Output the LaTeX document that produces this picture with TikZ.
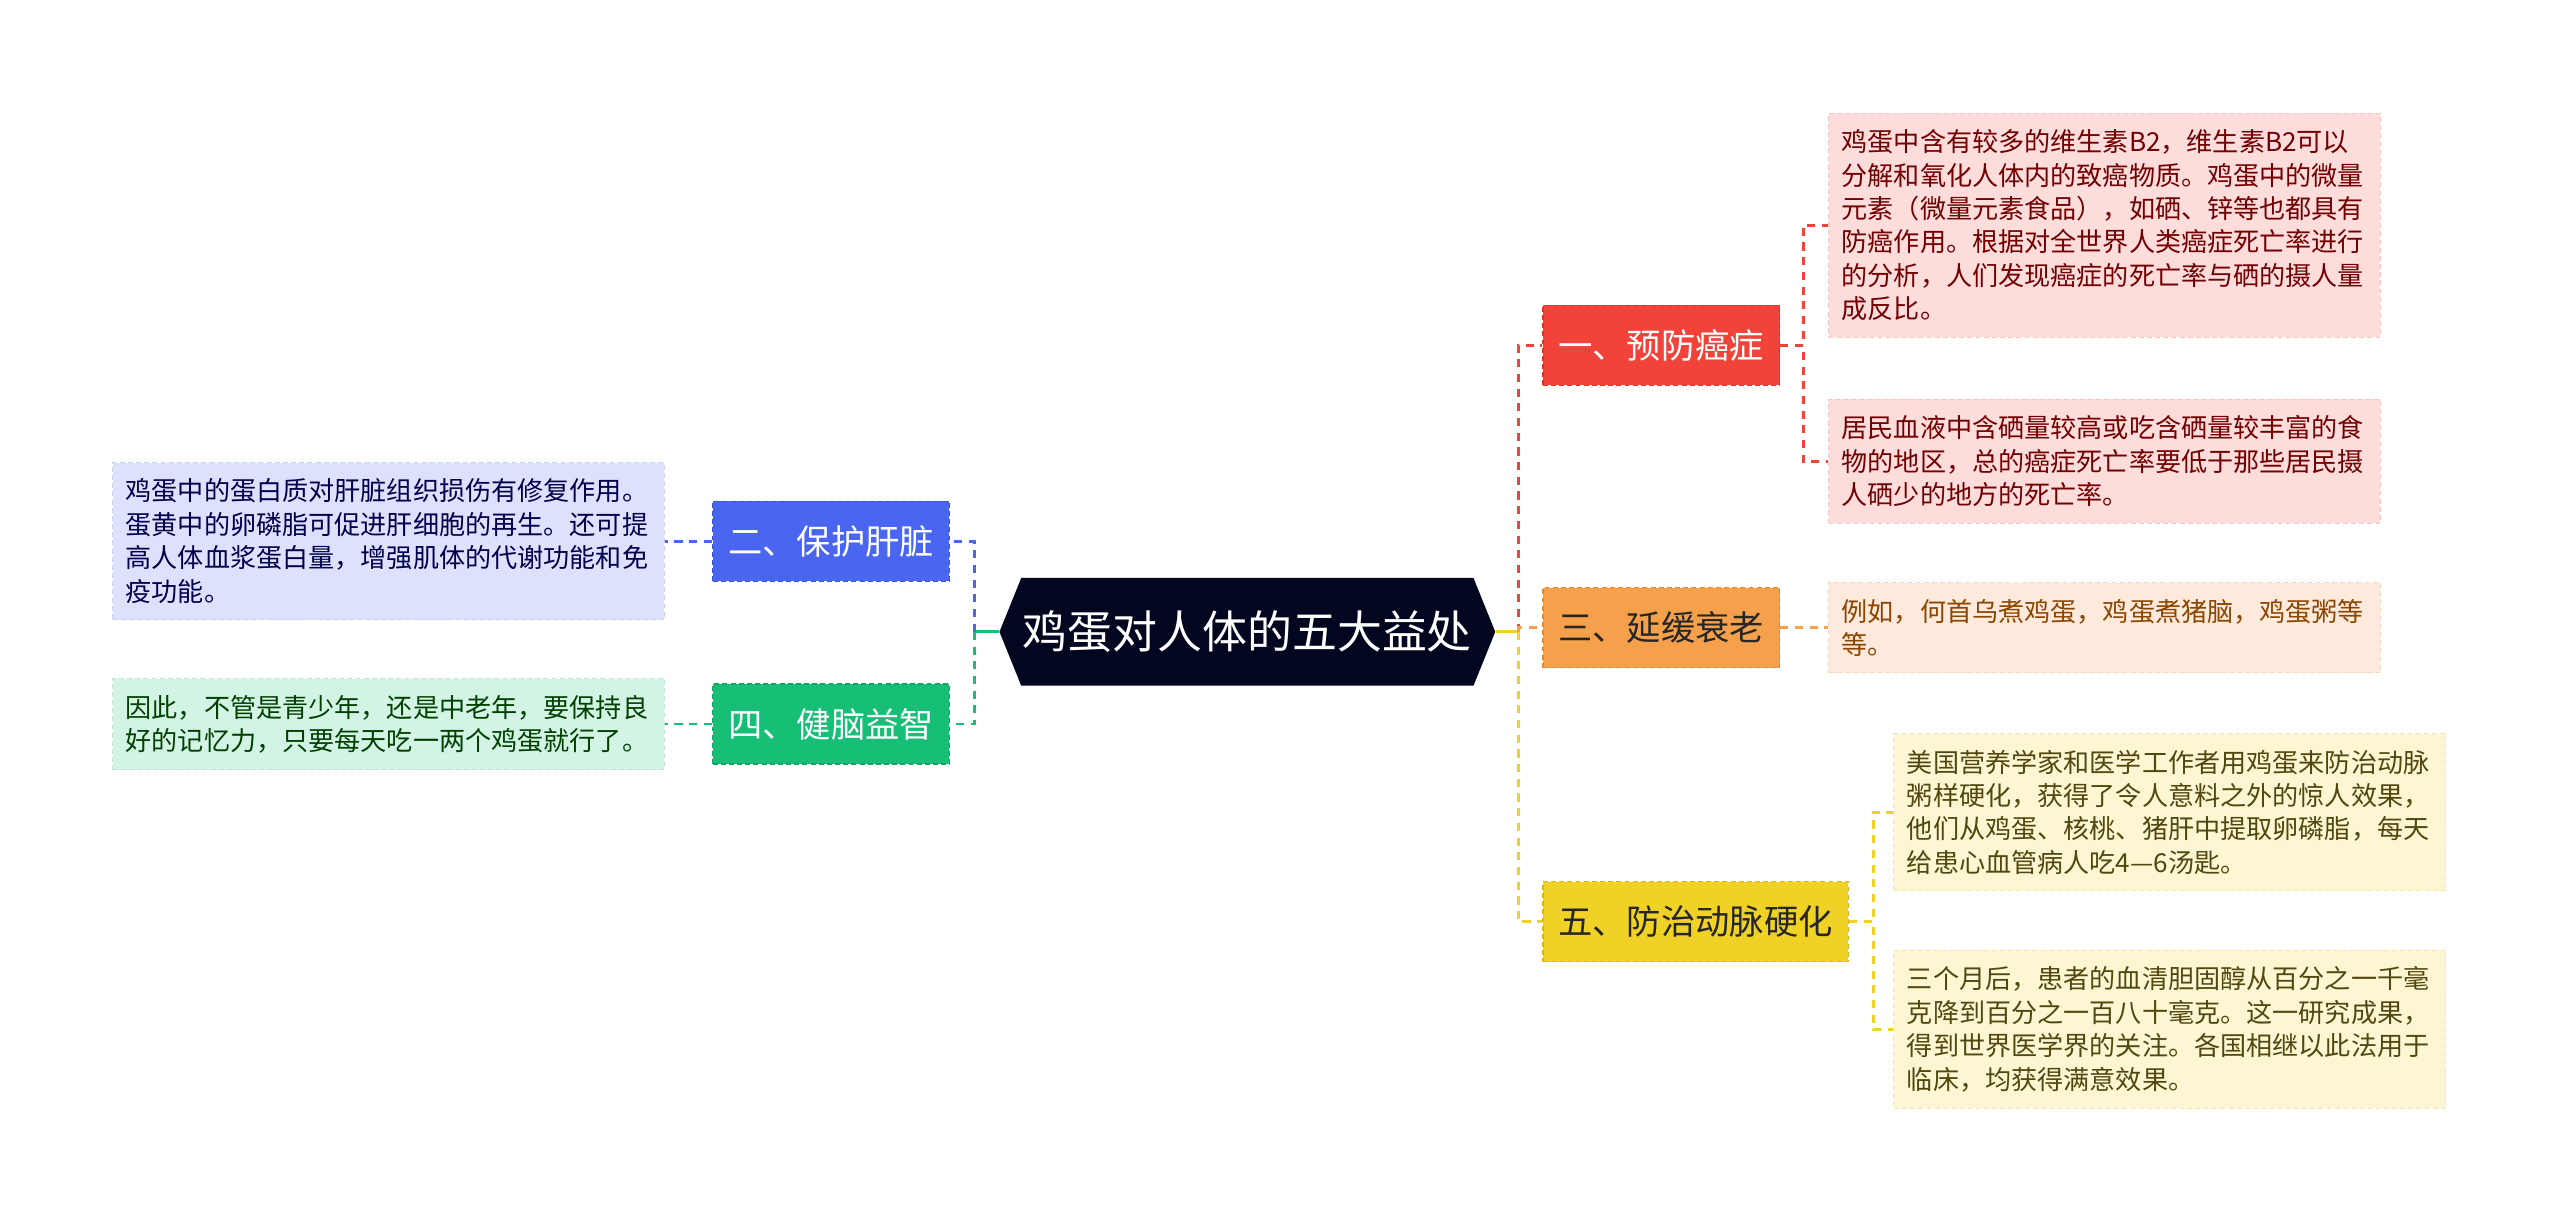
\documentclass[tikz,border=0pt]{standalone}
\usepackage{fontspec}
\setmainfont{Noto Sans CJK SC}
\usepackage{tikz}
\usetikzlibrary{shapes.symbols}

\definecolor{notte}{HTML}{03061F}
\definecolor{rosso}{HTML}{F2433B}
\definecolor{rossoB}{HTML}{D8342D}
\definecolor{blu}{HTML}{4A66F0}
\definecolor{bluB}{HTML}{3A52D2}
\definecolor{verde}{HTML}{17BE76}
\definecolor{verdeB}{HTML}{10A563}
\definecolor{arancio}{HTML}{F5A04B}
\definecolor{arancioB}{HTML}{E08A36}
\definecolor{giallo}{HTML}{F0D226}
\definecolor{gialloB}{HTML}{D6B816}
\definecolor{rosa}{HTML}{FDDCDC}
\definecolor{rosaB}{HTML}{F6C6C6}
\definecolor{azzurro}{HTML}{DCE2FB}
\definecolor{azzurroB}{HTML}{C8D0F4}
\definecolor{menta}{HTML}{D3F3E5}
\definecolor{mentaB}{HTML}{BCE9D4}
\definecolor{pesca}{HTML}{FDEADC}
\definecolor{pescaB}{HTML}{F6D7C1}
\definecolor{crema}{HTML}{FCF6D3}
\definecolor{cremaB}{HTML}{F1E6B0}
\definecolor{olivaT}{HTML}{52470F}

\tikzset{
  foglia/.style={rectangle, align=left, text width=322pt, inner xsep=8pt, inner ysep=10pt,
    font=\fontsize{16}{20.5}\selectfont, dash pattern=on 3pt off 2pt, line width=0.6pt},
  ramo/.style={rectangle, minimum height=49pt, inner xsep=9.5pt, inner ysep=0pt,
    font=\fontsize{21}{25}\selectfont, dash pattern=on 3pt off 2pt, line width=0.8pt},
  linea/.style={line width=1.7pt, dash pattern=on 5pt off 4pt},
  centro/.style={signal, signal to=west and east, signal pointer angle=136, fill=notte,
    text=white, minimum height=66pt, inner xsep=1pt, font=\fontsize{27.5}{30}\selectfont}
}

\begin{document}
\begin{tikzpicture}[x=1pt,y=-1pt]
    % Sfondo e margini
    \path[fill=white] (0,0) rectangle (1568,750);
    \useasboundingbox (0,0) rectangle (1568,750);
    % Nodo centrale
    \node[centro] (uovo) at (764,387) {鸡蛋对人体的五大益处};
    \coordinate (tronco sx) at (597,387);
    \coordinate (tronco dx) at (930,387);
    % Rami a destra
    \node[ramo, fill=rosso, draw=rossoB, text=white] (cancro) at (1017.5,211.5) {一、预防癌症};
    \node[ramo, fill=arancio, draw=arancioB, text=black!85] (vecchiaia) at (1017.5,384.5) {三、延缓衰老};
    \node[ramo, fill=giallo, draw=gialloB, text=black!85] (arterie) at (1038.5,564.5) {五、防治动脉硬化};
    % Rami a sinistra
    \node[ramo, fill=blu, draw=bluB, text=white] (fegato) at (509,331.5) {二、保护肝脏};
    \node[ramo, fill=verde, draw=verdeB, text=white] (cervello) at (509,443.5) {四、健脑益智};
    % Foglie
    \node[foglia, fill=rosa, draw=rosaB, text=red!45!black] (cancro a) at (1289,138) {鸡蛋中含有较多的维生素B2，维生素B2可以\\分解和氧化人体内的致癌物质。鸡蛋中的微量\\元素（微量元素食品），如硒、锌等也都具有\\防癌作用。根据对全世界人类癌症死亡率进行\\的分析，人们发现癌症的死亡率与硒的摄人量\\成反比。};
    \node[foglia, fill=rosa, draw=rosaB, text=red!45!black] (cancro b) at (1289,282.5) {居民血液中含硒量较高或吃含硒量较丰富的食\\物的地区，总的癌症死亡率要低于那些居民摄\\人硒少的地方的死亡率。};
    \node[foglia, fill=pesca, draw=pescaB, text=orange!55!black] (vecchiaia a) at (1289,384.5) {例如，何首乌煮鸡蛋，鸡蛋煮猪脑，鸡蛋粥等\\等。};
    \node[foglia, fill=crema, draw=cremaB, text=olivaT] (arterie a) at (1329,497.5) {美国营养学家和医学工作者用鸡蛋来防治动脉\\粥样硬化，获得了令人意料之外的惊人效果，\\他们从鸡蛋、核桃、猪肝中提取卵磷脂，每天\\给患心血管病人吃4—6汤匙。};
    \node[foglia, fill=crema, draw=cremaB, text=olivaT] (arterie b) at (1329,630.5) {三个月后，患者的血清胆固醇从百分之一千毫\\克降到百分之一百八十毫克。这一研究成果，\\得到世界医学界的关注。各国相继以此法用于\\临床，均获得满意效果。};
    \node[foglia, fill=azzurro, draw=azzurroB, text=blue!30!black] (fegato a) at (238,331.5) {鸡蛋中的蛋白质对肝脏组织损伤有修复作用。\\蛋黄中的卵磷脂可促进肝细胞的再生。还可提\\高人体血浆蛋白量，增强肌体的代谢功能和免\\疫功能。};
    \node[foglia, fill=menta, draw=mentaB, text=green!25!black] (cervello a) at (238,443.5) {因此，不管是青少年，还是中老年，要保持良\\好的记忆力，只要每天吃一两个鸡蛋就行了。};
    % Collegamenti dal centro
    \draw[line width=1.7pt, giallo] (uovo.east) -- (tronco dx);
    \draw[linea, rosso] (tronco dx) |- (cancro.west);
    \draw[linea, arancio] (tronco dx) |- (vecchiaia.west);
    \draw[linea, giallo] (tronco dx) |- (arterie.west);
    \draw[line width=1.7pt, verde] (uovo.west) -- (tronco sx);
    \draw[linea, blu] (tronco sx) |- (fegato.east);
    \draw[linea, verde] (tronco sx) |- (cervello.east);
    % Collegamenti alle foglie
    \draw[linea, rosso] (cancro.east) -- ++(14,0) |- (cancro a.west);
    \draw[linea, rosso] (cancro.east) -- ++(14,0) |- (cancro b.west);
    \draw[linea, arancio] (vecchiaia.east) -- (vecchiaia a.west);
    \draw[linea, giallo] (arterie.east) -- ++(15,0) |- (arterie a.west);
    \draw[linea, giallo] (arterie.east) -- ++(15,0) |- (arterie b.west);
    \draw[linea, blu] (fegato.west) -- (fegato a.east);
    \draw[linea, verde] (cervello.west) -- (cervello a.east);
\end{tikzpicture}
\end{document}
